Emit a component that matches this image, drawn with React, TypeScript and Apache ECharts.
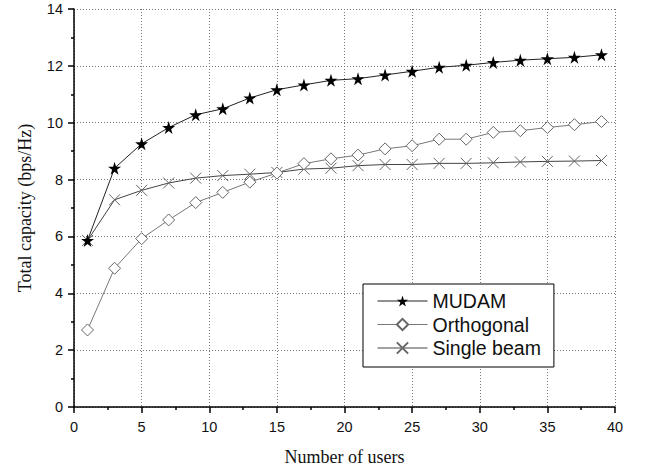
import React, { useEffect, useRef } from "react";
import * as echarts from "echarts";

const users = [1, 3, 5, 7, 9, 11, 13, 15, 17, 19, 21, 23, 25, 27, 29, 31, 33, 35, 37, 39];
const mudam = [5.86, 8.4, 9.26, 9.83, 10.28, 10.49, 10.87, 11.16, 11.33, 11.49, 11.55, 11.68, 11.81, 11.95, 12.02, 12.12, 12.2, 12.25, 12.3, 12.39];
const orthogonal = [2.71, 4.88, 5.92, 6.58, 7.19, 7.55, 7.91, 8.23, 8.56, 8.73, 8.86, 9.08, 9.19, 9.42, 9.42, 9.66, 9.72, 9.83, 9.93, 10.04];
const singleBeam = [5.86, 7.29, 7.62, 7.88, 8.05, 8.14, 8.19, 8.25, 8.37, 8.4, 8.49, 8.53, 8.53, 8.57, 8.57, 8.59, 8.62, 8.64, 8.65, 8.67];
const seriesNames = ["MUDAM", "Orthogonal", "Single beam"];

const STAR = "path://M50,0 L61,35 L98,35 L68,57 L79,91 L50,70 L21,91 L32,57 L2,35 L39,35 Z";
const CROSS = "path://M0,0L10,10M10,0L0,10";

export default function App() {
  const ref = useRef<HTMLDivElement>(null);
  useEffect(() => {
    const chart = echarts.init(ref.current!, undefined, { renderer: "svg" });
    const pair = (ys: number[]) => users.map((u, i) => [u, ys[i]]);
    chart.setOption({
      animation: false,
      backgroundColor: "#fff",
      grid: { left: 74, right: 32, top: 9, bottom: 66 },
      legend: {
        orient: "vertical",
        left: 363,
        top: 284,
        data: seriesNames,
        itemWidth: 50,
        itemHeight: 14,
        itemGap: 3.5,
        padding: [7, 13, 9, 14],
        borderColor: "#000",
        borderWidth: 1,
        backgroundColor: "#fff",
        lineStyle: { width: 1 },
        textStyle: { fontFamily: "Liberation Sans", fontSize: 19.5, color: "#111", lineHeight: 20 },
      },
      xAxis: {
        type: "value",
        min: 0,
        max: 40,
        interval: 5,
        name: "Number of users",
        nameLocation: "middle",
        nameGap: 41,
        nameTextStyle: { fontFamily: "Liberation Serif", fontSize: 18, color: "#111" },
        axisLine: { lineStyle: { color: "#000", width: 1.5 } },
        axisTick: { length: 6, lineStyle: { color: "#000", width: 1.5 } },
        minorTick: { show: true, splitNumber: 2, length: 3, lineStyle: { color: "#000", width: 1.5 } },
        axisLabel: { fontFamily: "Liberation Sans", fontSize: 14.5, color: "#111", margin: 12 },
        splitLine: { show: true, lineStyle: { color: "#777", type: [1, 2], width: 1 } },
      },
      yAxis: {
        type: "value",
        min: 0,
        max: 14,
        interval: 2,
        name: "Total capacity (bps/Hz)",
        nameLocation: "middle",
        nameGap: 40,
        nameTextStyle: { fontFamily: "Liberation Serif", fontSize: 18, color: "#111" },
        axisLine: { show: true, lineStyle: { color: "#000", width: 1.5 } },
        axisTick: { show: true, length: 6, lineStyle: { color: "#000", width: 1.5 } },
        minorTick: { show: true, splitNumber: 2, length: 3, lineStyle: { color: "#000", width: 1.5 } },
        axisLabel: { fontFamily: "Liberation Sans", fontSize: 14.5, color: "#111", margin: 11 },
        splitLine: { show: true, lineStyle: { color: "#777", type: [1, 2], width: 1 } },
      },
      series: [
        {
          name: seriesNames[0],
          type: "line",
          data: pair(mudam),
          symbol: STAR,
          symbolSize: 13,
          lineStyle: { color: "#222", width: 1 },
          itemStyle: { color: "#000" },
          z: 4,
        },
        {
          name: seriesNames[1],
          type: "line",
          data: pair(orthogonal),
          symbol: "diamond",
          symbolSize: 12,
          lineStyle: { color: "#777", width: 1 },
          itemStyle: { color: "#fff", borderColor: "#666", borderWidth: 1 },
          z: 3,
        },
        {
          name: seriesNames[2],
          type: "line",
          data: pair(singleBeam),
          symbol: CROSS,
          symbolSize: 11,
          lineStyle: { color: "#444", width: 1 },
          itemStyle: { color: "transparent", borderColor: "#666", borderWidth: 1 },
          z: 2,
        },
      ],
    });
    return () => chart.dispose();
  }, []);
  return <div ref={ref} style={{ width: 647, height: 473, position: "absolute", left: 0, top: 0 }} />;
}
